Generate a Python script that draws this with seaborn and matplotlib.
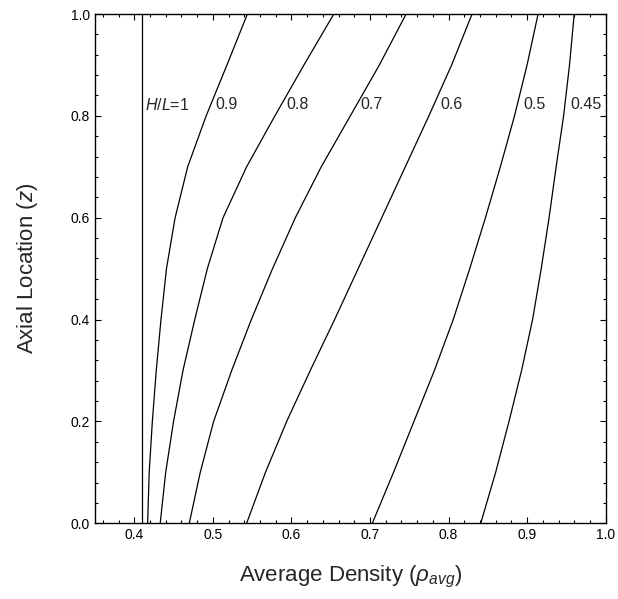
import pandas as pd
import matplotlib.pyplot as plt
import seaborn as sns
from matplotlib.ticker import MultipleLocator

# valori: z (posizione assiale) e densita media per ogni H/L
z = [0.0, 0.1, 0.2, 0.3, 0.4, 0.5, 0.6, 0.7, 0.8, 0.9, 1.0]
hl_labels = ['1', '0.9', '0.8', '0.7', '0.6', '0.5', '0.45']
rho_1 = [0.410, 0.410, 0.410, 0.410, 0.410, 0.410, 0.410, 0.410, 0.410, 0.410, 0.410]
rho_09 = [0.417, 0.419, 0.423, 0.428, 0.434, 0.441, 0.452, 0.468, 0.4915, 0.518, 0.544]
rho_08 = [0.433, 0.440, 0.450, 0.462, 0.477, 0.493, 0.513, 0.543, 0.579, 0.616, 0.654]
rho_07 = [0.470, 0.484, 0.501, 0.524, 0.549, 0.576, 0.605, 0.638, 0.675, 0.712, 0.746]
rho_06 = [0.543, 0.567, 0.594, 0.624, 0.655, 0.685, 0.715, 0.745, 0.775, 0.804, 0.830]
rho_05 = [0.703, 0.730, 0.756, 0.782, 0.806, 0.827, 0.847, 0.866, 0.884, 0.900, 0.914]
rho_045 = [0.841, 0.860, 0.877, 0.893, 0.907, 0.918, 0.928, 0.937, 0.9465, 0.954, 0.960]

# posizioni delle etichette (x) a z ~ 0.82
label_x = [0.4138, 0.503, 0.594, 0.688, 0.790, 0.895, 0.955]
label_text = [r'$H/L$=1', '0.9', '0.8', '0.7', '0.6', '0.5', '0.45']

series = [rho_1, rho_09, rho_08, rho_07, rho_06, rho_05, rho_045]
rows = []
for lab, rho in zip(hl_labels, series):
    for zz, r in zip(z, rho):
        rows.append({'HL': lab, 'rho': r, 'z': zz})
df = pd.DataFrame(rows)

sns.set_style('ticks')
plt.rcParams['font.family'] = ['Liberation Sans', 'DejaVu Sans']
plt.rcParams['mathtext.fontset'] = 'custom'
plt.rcParams['mathtext.rm'] = 'Liberation Sans'
plt.rcParams['mathtext.it'] = 'Liberation Sans:italic'

fig = plt.figure(figsize=(6.18, 5.99), dpi=100)
ax = fig.add_axes([0.1537, 0.1264, 0.8263, 0.8502])

sns.lineplot(data=df, x='rho', y='z', hue='HL', palette=['black'] * 7,
             sort=False, estimator=None, legend=False, linewidth=0.9, ax=ax)

for lx, lt in zip(label_x, label_text):
    ax.text(lx, 0.822, lt, fontsize=11.5, va='center', ha='left')

ax.set_xlim(0.35, 1.0)
ax.set_ylim(0.0, 1.0)
ax.xaxis.set_major_locator(MultipleLocator(0.1))
ax.xaxis.set_minor_locator(MultipleLocator(0.02))
ax.yaxis.set_major_locator(MultipleLocator(0.2))
ax.yaxis.set_minor_locator(MultipleLocator(0.04))
ax.set_xticks([0.4, 0.5, 0.6, 0.7, 0.8, 0.9, 1.0])
ax.tick_params(which='both', direction='in', top=True, right=True, width=0.8,
               colors='black', labelsize=10)
ax.tick_params(which='major', length=4)
ax.tick_params(which='minor', length=2.5)
for s in ax.spines.values():
    s.set_color('black')
    s.set_linewidth(1)

ax.set_xlabel(r'Average Density ($\rho_{avg}$)', fontsize=16, labelpad=16)
ax.set_ylabel(r'Axial Location ($z$)', fontsize=16, labelpad=22)

plt.savefig('out.png', dpi=100)
